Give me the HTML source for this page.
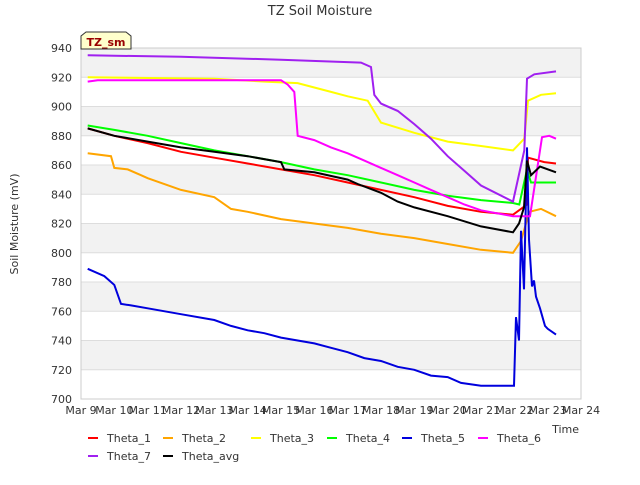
<!DOCTYPE html>
<html><head><meta charset="utf-8"><style>
body{margin:0;background:#fff;font-family:"Liberation Sans","DejaVu Sans",sans-serif}
svg text{font-family:"DejaVu Sans","Liberation Sans",sans-serif}
</style></head><body>
<svg id="c" width="640" height="480"></svg>
<script>
const yTicks=[700,720,740,760,780,800,820,840,860,880,900,920,940];
const xTickLabels=["Mar 9","Mar 10","Mar 11","Mar 12","Mar 13","Mar 14","Mar 15","Mar 16","Mar 17","Mar 18","Mar 19","Mar 20","Mar 21","Mar 22","Mar 23","Mar 24"];
const seriesNames=["Theta_1","Theta_2","Theta_3","Theta_4","Theta_5","Theta_6","Theta_7","Theta_avg"];
const seriesColors=["#ff0000","#ffa500","#ffff00","#00ff00","#0000dd","#ff00ff","#a020f0","#000000"];
const t1=[0.2,1,2,3,4,5,6,7,8,9,10,11,12,12.96,13.38,13.41,13.9,14.25];
const v1=[885,880,875,869,865,861,857,853,848,843,838,832,828,826,833,865,862,861];
const t2=[0.2,0.9,1.0,1.4,1.8,2,3,4,4.5,5,6,7,8,9,10,11,12,12.96,13.2,13.45,13.8,14.25];
const v2=[868,866,858,857,853,851,843,838,830,828,823,820,817,813,810,806,802,800,808,828,830,825];
const t3=[0.2,4,5.5,6.5,7,7.5,8,8.6,9,10,11,12,12.96,13.3,13.41,13.8,14.25];
const v3=[920,919,917,916,913,910,907,904,889,882,876,873,870,878,904,908,909];
const t4=[0.2,1,2,3,4,5,6,7,8,9,10,11,12,12.96,13.15,13.38,13.5,14.25];
const v4=[887,884,880,875,870,866,862,857,853,848,843,839,836,834,833,857,848,848];
const t5=[0.2,0.7,1.0,1.2,1.5,2,3,4,4.5,5,5.5,6,7,7.5,8,8.5,9,9.5,10,10.5,11,11.4,12,12.99,13.05,13.14,13.2,13.29,13.38,13.44,13.53,13.59,13.65,13.77,13.92,14.0,14.25];
const v5=[789,784,778,765,764,762,758,754,750,747,745,742,738,735,732,728,726,722,720,716,715,711,709,709,756,740,815,775,872,809,777,781,770,762,750,748,744];
const t6=[0.2,0.5,6,6.2,6.4,6.5,7,7.5,8,8.5,9,9.5,10,10.5,11,11.5,12,12.96,13.47,13.83,14.05,14.25];
const v6=[917,918,918,915,910,880,877,872,868,863,858,853,848,843,838,833,829,825,825,879,880,878];
const t7=[0.2,3,6,8.4,8.7,8.8,9,9.5,10,10.5,11,11.5,12,12.96,13.3,13.38,13.6,14.25];
const v7=[935,934,932,930,927,908,902,897,888,878,866,856,846,835,870,919,922,924];
const tA=[0.2,1,2,3,4,5,6,6.1,7,8,8.3,9,9.5,10,11,12,12.96,13.14,13.29,13.38,13.5,13.77,14.25];
const vA=[885,880,876,872,869,866,862,857,855,850,847,841,835,831,825,818,814,820,831,863,853,859,855];
const seriesT=[t1,t2,t3,t4,t5,t6,t7,tA];
const seriesV=[v1,v2,v3,v4,v5,v6,v7,vA];

const NS="http://www.w3.org/2000/svg";
const svg=document.getElementById('c');
const L=81,R=581,T=48,B=399;
const xs=d=>L+(d/15)*(R-L);
const ys=v=>B-(v-700)/240*(B-T);
function mk(tag,attrs,parent){const e=document.createElementNS(NS,tag);for(const k in attrs)e.setAttribute(k,attrs[k]);(parent||svg).appendChild(e);return e;}
for(let v=720;v<940;v+=40){const r=mk('rect',{x:L,y:ys(v+20),width:R-L,height:ys(v)-ys(v+20),fill:'#f2f2f2'});

}
yTicks.forEach(v=>{const l=mk('line',{x1:L,x2:R,y1:ys(v),y2:ys(v),stroke:'#dddddd','stroke-width':1});


const t=mk('text',{x:L-9,y:ys(v)+4,'text-anchor':'end','font-size':11,fill:'#333'});t.textContent=v;

});
xTickLabels.forEach((s,i)=>{const t=mk('text',{x:xs(i),y:414,'text-anchor':'middle','font-size':11,fill:'#333'});t.textContent=s;

});
const frame=mk('rect',{x:L,y:T,width:R-L,height:B-T,fill:'none',stroke:'#cccccc'});


seriesNames.forEach((n,i)=>{const pts=seriesT[i].map((d,j)=>xs(d).toFixed(1)+','+ys(seriesV[i][j]).toFixed(1)).join(' ');
const p=mk('polyline',{points:pts,fill:'none',stroke:seriesColors[i],'stroke-width':2});

});
const title=mk('text',{x:320,y:15,'text-anchor':'middle','font-size':13,fill:'#333'});title.textContent='TZ Soil Moisture';


const yt=mk('text',{x:18,y:224,'text-anchor':'middle','font-size':11,fill:'#333',transform:'rotate(-90 18 224)'});yt.textContent='Soil Moisture (mV)';


const xt=mk('text',{x:579,y:433,'text-anchor':'end','font-size':11,fill:'#333'});xt.textContent='Time';


const g=mk('g',{});


mk('path',{d:'M81,49 L81,36 L86,32 L126,32 L131,36 L131,49 Z',fill:'#ffffcc',stroke:'#333','stroke-width':1},g);
const bt=mk('text',{x:106,y:46,'text-anchor':'middle','font-size':11,'font-weight':'bold',fill:'#990000'},g);bt.textContent='TZ_sm';
const legX=[88,163,251,327,402,478,88,163];
const legY=[442,442,442,442,442,442,460,460];
seriesNames.forEach((n,i)=>{const lg=mk('g',{});


mk('line',{x1:legX[i],x2:legX[i]+10,y1:legY[i]-4,y2:legY[i]-4,stroke:seriesColors[i],'stroke-width':2},lg);
const t=mk('text',{x:legX[i]+19,y:legY[i],'font-size':11,fill:'#333'},lg);t.textContent=n;});
</script>
</body></html>
